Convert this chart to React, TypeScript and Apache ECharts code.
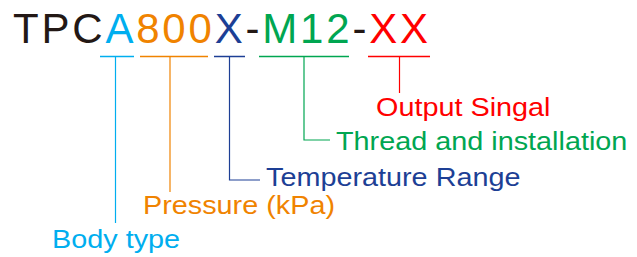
import React, { useEffect, useRef } from "react";
import * as echarts from "echarts";

// Model code segments (text + colour)
const codeParts = ["TPC", "A", "800", "X", "-", "M12", "-", "XX"];
const codeColors = ["#231815", "#00AEEF", "#F08300", "#1D3F95", "#231815", "#00A651", "#231815", "#FF0000"];

// Callout labels
const labels = ["Body type", "Pressure (kPa)", "Temperature Range", "Thread and installation", "Output Singal"];
const labelColors = ["#00AEEF", "#F08300", "#1D3F95", "#00A651", "#FF0000"];
const labelX = [52, 143, 266, 336, 376];
const labelY = [239, 205.5, 177.5, 141.5, 107.5];

// Bracket geometry: underline start/end, tick x, tick end y, elbow end x (null = none)
const underStart = [100, 140, 214, 259, 368];
const underEnd = [134, 208, 245, 349, 430];
const tickX = [115.5, 170, 229.5, 304, 399.5];
const tickEndY = [223, 192, 180, 140, 93];
const elbowEndX: (number | null)[] = [null, null, 260, 330, null];

const TITLE_FONT = "42px 'Liberation Sans', Arial, sans-serif";
const TITLE_SPACING = 2.8;

export default function App() {
  const ref = useRef<HTMLDivElement>(null);
  useEffect(() => {
    if (!ref.current) return;
    const chart = echarts.init(ref.current, undefined, { renderer: "svg" });
    const elements: any[] = [];
    const ctx = document.createElement("canvas").getContext("2d") as CanvasRenderingContext2D;
    ctx.font = TITLE_FONT;
    let cx = 13;
    codeParts.forEach((t, i) => {
      for (const ch of t) {
        elements.push({
          type: "text",
          x: cx,
          y: 28,
          style: {
            text: ch,
            x: 0,
            y: 0,
            fill: codeColors[i],
            font: TITLE_FONT,
            textAlign: "left",
            textVerticalAlign: "middle",
          },
        });
        cx += ctx.measureText(ch).width + TITLE_SPACING;
      }
    });
    labels.forEach((t, i) => {
      const uy = 56.5;
      elements.push({
        type: "line",
        shape: { x1: underStart[i], y1: uy, x2: underEnd[i], y2: uy },
        style: { stroke: labelColors[i], lineWidth: 1.5 },
      });
      const pts: number[][] = [
        [tickX[i], uy],
        [tickX[i], tickEndY[i]],
      ];
      if (elbowEndX[i] != null) pts.push([elbowEndX[i] as number, tickEndY[i]]);
      elements.push({
        type: "polyline",
        shape: { points: pts },
        style: { stroke: labelColors[i], lineWidth: 1.2, fill: null },
      });
      elements.push({
        type: "text",
        x: labelX[i],
        y: labelY[i],
        scaleX: 1.13,
        style: {
          text: t,
          x: 0,
          y: 0,
          fill: labelColors[i],
          font: "25.5px 'Liberation Sans', Arial, sans-serif",
          textAlign: "left",
          textVerticalAlign: "middle",
        },
      });
    });
    chart.setOption({
      animation: false,
      backgroundColor: "#ffffff",
      graphic: { elements },
    });
    return () => chart.dispose();
  }, []);
  return (
    <div
      ref={ref}
      style={{ position: "fixed", left: 0, top: 0, width: 637, height: 257, background: "#fff" }}
    />
  );
}
